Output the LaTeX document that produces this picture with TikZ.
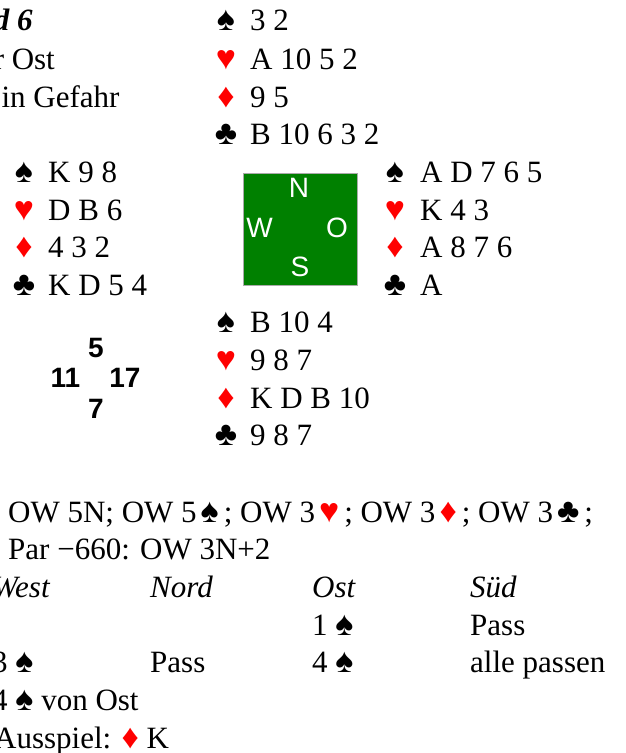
\documentclass[tikz,border=0pt]{standalone}
\usepackage{fontspec}
\setmainfont{Liberation Serif}
\newfontfamily\suitfont{Liberation Serif}
\newfontfamily\sansfam{Liberation Sans}
\definecolor{suitred}{RGB}{255,0,0}
\definecolor{tablegreen}{RGB}{0,128,0}
\definecolor{tableborder}{RGB}{170,170,170}
\newcommand{\suitsz}{\suitfont\fontsize{34}{34}\selectfont}
\newcommand{\Sp}{{\suitsz ♠}}
\newcommand{\He}{{\color{suitred}\suitsz ♥}}
\newcommand{\Di}{{\color{suitred}\suitsz ♦}}
\newcommand{\Cl}{{\suitsz ♣}}
\newcommand{\isuit}[1]{\kern4pt#1\kern5pt}
\tikzset{
  txt/.style={anchor=base west, inner sep=0pt, font=\fontsize{31}{36}\selectfont},
  hdr/.style={txt, font=\fontsize{31}{36}\selectfont\itshape},
  ttl/.style={txt, font=\fontsize{31}{36}\selectfont\bfseries\itshape},
  suitsym/.style={anchor=base, inner sep=0pt, font=\suitsz},
  hcp/.style={anchor=center, inner sep=0pt, font=\sansfam\bfseries\fontsize{28}{28}\selectfont},
  dirl/.style={anchor=center, inner sep=0pt, text=white, font=\sansfam\fontsize{28}{28}\selectfont},
  table/.style={fill=tablegreen, draw=tableborder, line width=1pt}
}
\begin{document}
\begin{tikzpicture}[x=1pt, y=-1pt]
\path[use as bounding box, clip] (0,0) rectangle (625,753);
% title
\node[ttl] (title) at (-70,30.5) {Board 6};
\node[txt] (dealer) at (-68,69.5) {Teiler Ost};
\node[txt] (vul) at (-58,107.5) {OW in Gefahr};
% North
\node[suitsym] (ns) at (226,30.5) {♠};
\node[suitsym, text=suitred] (nh) at (226,69.5) {♥};
\node[suitsym, text=suitred] (nd) at (226,107.5) {♦};
\node[suitsym] (nc) at (226,144.5) {♣};
\node[txt] (nst) at (250,30.5) {3 2};
\node[txt] (nht) at (250,69.5) {A 10 5 2};
\node[txt] (ndt) at (250,107.5) {9 5};
\node[txt] (nct) at (250,144.5) {B 10 6 3 2};
% West
\node[suitsym] (ws) at (24,182.5) {♠};
\node[suitsym, text=suitred] (wh) at (24,220.5) {♥};
\node[suitsym, text=suitred] (wd) at (24,257.5) {♦};
\node[suitsym] (wc) at (24,295.5) {♣};
\node[txt] (wst) at (48,182.5) {K 9 8};
\node[txt] (wht) at (48,220.5) {D B 6};
\node[txt] (wdt) at (48,257.5) {4 3 2};
\node[txt] (wct) at (48,295.5) {K D 5 4};
% East
\node[suitsym] (es) at (395,182.5) {♠};
\node[suitsym, text=suitred] (eh) at (395,220.5) {♥};
\node[suitsym, text=suitred] (ed) at (395,257.5) {♦};
\node[suitsym] (ec) at (395,295.5) {♣};
\node[txt] (est) at (420,182.5) {A D 7 6 5};
\node[txt] (eht) at (420,220.5) {K 4 3};
\node[txt] (edt) at (420,257.5) {A 8 7 6};
\node[txt] (ect) at (420,295.5) {A};
% table
\draw[table] (243,173) rectangle (357,285);
\node[dirl] (dn) at (299,188) {N};
\node[dirl] (dw) at (259.5,227.5) {W};
\node[dirl] (do) at (337,227.5) {O};
\node[dirl] (ds) at (300,267) {S};
% South
\node[suitsym] (ss) at (226,332.5) {♠};
\node[suitsym, text=suitred] (sh) at (226,370.5) {♥};
\node[suitsym, text=suitred] (sd) at (226,408.5) {♦};
\node[suitsym] (sc) at (226,445.5) {♣};
\node[txt] (sst) at (250,332.5) {B 10 4};
\node[txt] (sht) at (250,370.5) {9 8 7};
\node[txt] (sdt) at (250,408.5) {K D B 10};
\node[txt] (sct) at (250,445.5) {9 8 7};
% HCP
\node[hcp] (pn) at (96,347.5) {5};
\node[hcp] (pw) at (65.5,378) {11};
\node[hcp] (pe) at (125,378) {17};
\node[hcp] (ps) at (96,409) {7};
% bottom
\node[txt] (dd) at (8,522.5) {OW 5N; OW 5\isuit{\Sp}; OW 3\isuit{\He}; OW 3\isuit{\Di}; OW 3\isuit{\Cl};};
\node[txt] (par) at (8,559.5) {Par −660: OW 3N+2};
\node[hdr] (hw) at (-8,597.5) {West};
\node[hdr] (hn) at (150,597.5) {Nord};
\node[hdr] (ho) at (312,597.5) {Ost};
\node[hdr] (hs) at (470,597.5) {Süd};
\node[txt] (b1o) at (312,635.5) {1 \Sp};
\node[txt] (b1s) at (470,635.5) {Pass};
\node[txt] (b2w) at (-8,672.5) {3 \Sp};
\node[txt] (b2n) at (150,672.5) {Pass};
\node[txt] (b2o) at (312,672.5) {4 \Sp};
\node[txt] (b2s) at (470,672.5) {alle passen};
\node[txt] (contract) at (-8,710.5) {4 \Sp{} von Ost};
\node[txt] (lead) at (-6,748.5) {Ausspiel: \Di{} K};
\end{tikzpicture}
\end{document}
